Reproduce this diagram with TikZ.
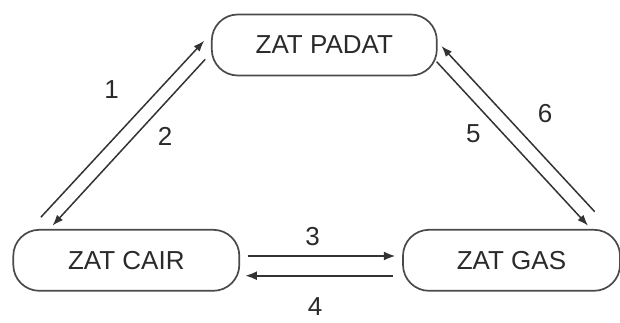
\documentclass[tikz,border=0pt]{standalone}
\usepackage{fontspec}
\setmainfont{Liberation Sans}
\usetikzlibrary{arrows.meta,calc}
\definecolor{boxline}{HTML}{4A4A4A}
\definecolor{arrline}{HTML}{333333}
\definecolor{txt}{HTML}{2A2A2A}
\begin{document}
\begin{tikzpicture}[x=1pt,y=-1pt,
  state/.style={draw=boxline,line width=1.7pt,rounded corners=26pt,inner sep=0pt,
    minimum height=61pt,text=txt,font=\fontsize{26}{30}\selectfont},
  lbl/.style={inner sep=0pt,text=txt,font=\fontsize{26}{30}\selectfont},
  conn/.style={draw=arrline,line width=1.5pt,-{Latex[length=11pt,width=8pt]}},
  connthick/.style={conn,line width=2.4pt,-{Latex[length=12pt,width=9pt]}}]
\useasboundingbox (0,0) rectangle (620,323);
\node[state,minimum width=225pt] (padat) at (324.3,45) {ZAT PADAT};
\node[state,minimum width=226pt] (cair) at (126.3,260.3) {ZAT CAIR};
\node[state,minimum width=217pt] (gas) at (511.5,260.3) {ZAT GAS};
% left pair
\coordinate (t1) at ($(cair.north west)+(28.4,-11.7)$);
\coordinate (h1) at ($(padat.west)+(-6.7,-4.3)$);
\coordinate (t2) at ($(padat.west)+(-5.7,14.3)$);
\coordinate (h2) at ($(cair.north west)+(40,-3.3)$);
% right pair
\coordinate (t6) at ($(gas.north east)+(-26.2,-17.3)$);
\coordinate (h6) at ($(padat.east)+(3.7,1)$);
\coordinate (t5) at ($(padat.east)+(-1,16.7)$);
\coordinate (h5) at ($(gas.north east)+(-32.8,-3.3)$);
% bottom pair
\coordinate (t3) at ($(cair.east)+(7.4,-4.3)$);
\coordinate (h3) at ($(gas.west)+(-6.3,-4.3)$);
\coordinate (t4) at ($(gas.west)+(-9,15.4)$);
\coordinate (h4) at ($(cair.east)+(4.7,15.4)$);
\draw[conn] (t1) -- (h1);
\draw[conn] (t2) -- (h2);
\draw[conn] (t6) -- (h6);
\draw[conn] (t5) -- (h5);
\draw[connthick] (t3) -- (h3);
\draw[connthick] (t4) -- (h4);
\node[lbl] (l1) at (111.7,90) {1};
\node[lbl] (l2) at (165,136) {2};
\node[lbl] (l3) at (312.7,236.7) {3};
\node[lbl] (l4) at (315,307) {4};
\node[lbl] (l5) at (473.3,134) {5};
\node[lbl] (l6) at (545,113.3) {6};
\end{tikzpicture}
\end{document}
